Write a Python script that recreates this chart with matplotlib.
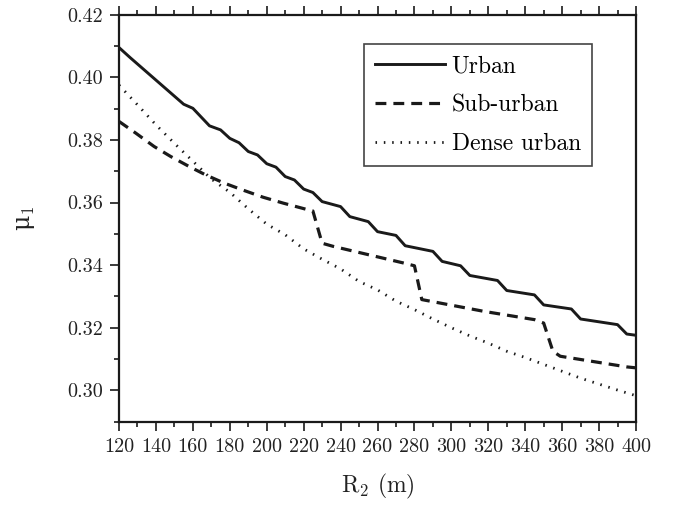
import matplotlib
matplotlib.use("Agg")
import matplotlib.pyplot as plt
from matplotlib.ticker import MultipleLocator, FormatStrFormatter

plt.rcParams['font.family'] = ['cmr10', 'DejaVu Serif']
plt.rcParams['mathtext.fontset'] = 'cm'
plt.rcParams['axes.unicode_minus'] = False

# urban (solid)
urban_x = [120, 126, 155, 160, 169, 175, 180, 185, 190, 195, 200, 205, 210, 215, 220, 225,
           230, 240, 245, 255, 260, 270, 275, 290, 295, 305, 310, 325, 330, 345, 350, 365,
           370, 390, 395, 400]
urban_y = [0.4095, 0.4063, 0.3914, 0.3901, 0.3845, 0.3832, 0.3805, 0.3791, 0.3763, 0.3752,
           0.3724, 0.3713, 0.3683, 0.3672, 0.3643, 0.3632, 0.3603, 0.3587, 0.3555, 0.3539,
           0.3507, 0.3495, 0.3462, 0.3444, 0.3412, 0.3398, 0.3367, 0.3351, 0.3319, 0.3305,
           0.3273, 0.3260, 0.3228, 0.3210, 0.3180, 0.3176]

# sub-urban (dashed)
sub_x = [120, 129, 139, 148, 158, 167, 177, 187, 198, 209, 221, 225, 230, 236, 274, 280,
         284, 318, 345, 350, 355, 359, 395, 400]
sub_y = [0.3859, 0.3822, 0.3779, 0.3747, 0.3715, 0.3688, 0.3662, 0.3640, 0.3617, 0.3598,
         0.3579, 0.3573, 0.3470, 0.3460, 0.3407, 0.3398, 0.3290, 0.3252, 0.3226, 0.3215,
         0.3125, 0.3109, 0.3075, 0.3072]

# dense urban (dotted)
dense_x = [120, 130, 140, 150, 160, 170, 180, 190, 200, 210, 220, 230, 240, 250, 260,
           270, 280, 290, 300, 310, 320, 330, 340, 350, 360, 370, 380, 390, 400]
dense_y = [0.3975, 0.3912, 0.3848, 0.3789, 0.3732, 0.3675, 0.3633, 0.3580, 0.3531, 0.3497,
           0.3452, 0.3419, 0.3388, 0.3348, 0.3321, 0.3285, 0.3258, 0.3228, 0.3200, 0.3174,
           0.3151, 0.3125, 0.3105, 0.3083, 0.3061, 0.3039, 0.3020, 0.3001, 0.2983]

fig = plt.figure(figsize=(6.74, 5.08), dpi=100)
ax = fig.add_axes([0.1766, 0.1699, 0.767, 0.8012])

ax.plot(urban_x, urban_y, color='#1a1a1a', lw=2.1, ls='-', label='Urban')
ax.plot(sub_x, sub_y, color='#1a1a1a', lw=2.3, ls=(0, (3.4, 2.2)), label='Sub-urban')
ax.plot(dense_x, dense_y, color='#1a1a1a', lw=2.0, ls=(0, (0.55, 2.45)), label='Dense urban')

ax.set_xlim(120, 400)
ax.set_ylim(0.29, 0.42)
ax.xaxis.set_major_locator(MultipleLocator(20))
ax.xaxis.set_minor_locator(MultipleLocator(10))
ax.yaxis.set_major_locator(MultipleLocator(0.02))
ax.yaxis.set_minor_locator(MultipleLocator(0.01))
ax.yaxis.set_major_formatter(FormatStrFormatter('%.2f'))

for s in ax.spines.values():
  s.set_linewidth(1.6)
  s.set_color('#1a1a1a')

ax.tick_params(which='both', direction='out', top=True, right=False, labeltop=False,
               width=1.2, color='#1a1a1a', labelsize=14.5, labelcolor='#222222')
ax.tick_params(which='major', length=6.5, pad=5)
ax.tick_params(which='minor', length=3.4)

ax.set_xlabel(r'R$_2$ (m)', fontsize=17, color='#222222', labelpad=12)
ax.set_ylabel(r'μ$_1$', fontsize=17, color='#222222', labelpad=22,
              fontfamily=['DejaVu Serif'])

leg = ax.legend(loc='upper right', bbox_to_anchor=(0.914, 0.927), borderaxespad=0,
                fontsize=17, handlelength=2.95, handletextpad=0.3, labelspacing=0.72,
                fancybox=False, framealpha=1, edgecolor='#444444', borderpad=0.45)
leg.get_frame().set_linewidth(1.2)

fig.savefig('out.png', dpi=100)
